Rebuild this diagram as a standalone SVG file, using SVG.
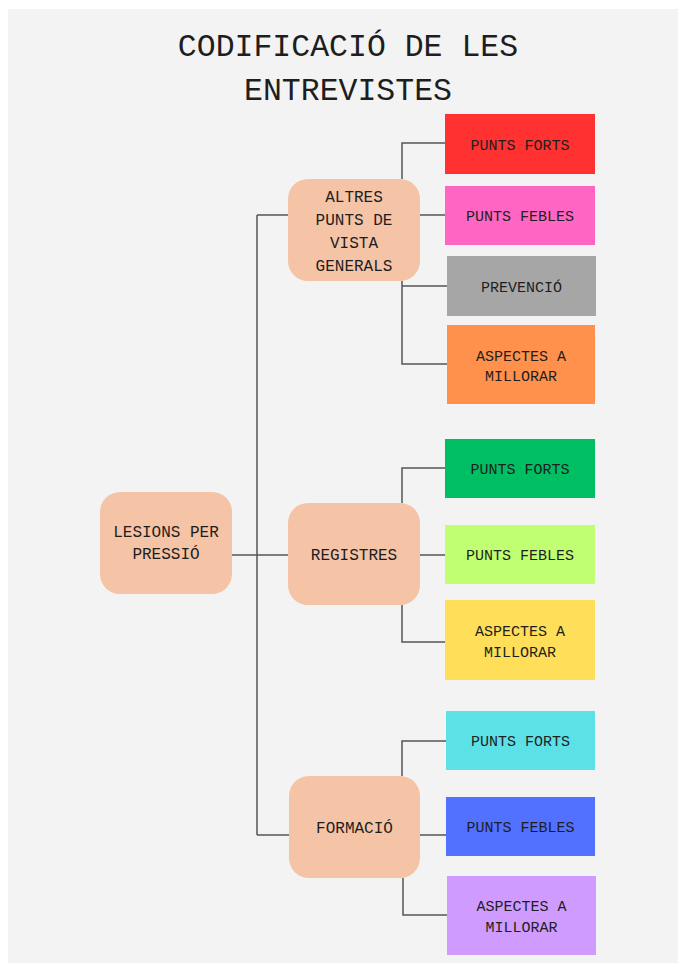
<svg xmlns="http://www.w3.org/2000/svg" width="678" height="963" viewBox="0 0 678 963">
<style>
.t{font-family:"Liberation Mono","DejaVu Sans Mono",monospace;fill:#1e1e1e;text-anchor:middle}
.title{font-size:31.5px}
.n{font-size:16px}
.l{font-size:15px}
.node{fill:#f5c4a6}
.c{fill:none;stroke:#555;stroke-width:1.5}
</style>
<rect x="0" y="0" width="678" height="963" fill="#ffffff"/>
<rect x="8" y="9" width="670" height="954" fill="#f3f3f3"/>
<g id="title">
<text class="t title" x="348" y="56">CODIFICACIÓ DE LES</text>
<text class="t title" x="348" y="100">ENTREVISTES</text>
</g>
<g id="connectors">
<path class="c" d="M257,215 V835"/>
<path class="c" d="M257,215 H288"/>
<path class="c" d="M232,555 H288"/>
<path class="c" d="M257,835 H289"/>
<path class="c" d="M402,179 V143 H445"/>
<path class="c" d="M420,215 H445"/>
<path class="c" d="M402,286 H447"/>
<path class="c" d="M402,281 V364 H447"/>
<path class="c" d="M402,503 V468 H445"/>
<path class="c" d="M420,555 H445"/>
<path class="c" d="M402,605 V642 H445"/>
<path class="c" d="M402,776 V741 H446"/>
<path class="c" d="M420,835 H446"/>
<path class="c" d="M403,878 V915 H447"/>
</g>
<g id="lesions">
<rect class="node" x="100" y="492" width="132" height="102" rx="20"/>
<text class="t n" x="166" y="537">LESIONS PER</text>
<text class="t n" x="166" y="559">PRESSIÓ</text>
</g>
<g id="altres">
<rect class="node" x="288" y="179" width="132" height="102" rx="20"/>
<text class="t n" x="354" y="202">ALTRES</text>
<text class="t n" x="354" y="225">PUNTS DE</text>
<text class="t n" x="354" y="248">VISTA</text>
<text class="t n" x="354" y="271">GENERALS</text>
</g>
<g id="registres">
<rect class="node" x="288" y="503" width="132" height="102" rx="20"/>
<text class="t n" x="354" y="560">REGISTRES</text>
</g>
<g id="formacio">
<rect class="node" x="289" y="776" width="131" height="102" rx="20"/>
<text class="t n" x="354.5" y="833">FORMACIÓ</text>
</g>
<g id="a-forts">
<rect x="445" y="114" width="150" height="60" fill="#ff3131"/>
<text class="t l" x="520" y="150">PUNTS FORTS</text>
</g>
<g id="a-febles">
<rect x="445" y="186" width="150" height="59" fill="#ff66c4"/>
<text class="t l" x="520" y="221">PUNTS FEBLES</text>
</g>
<g id="a-prevencio">
<rect x="447" y="256" width="149" height="60" fill="#a6a6a6"/>
<text class="t l" x="521.5" y="291.5">PREVENCIÓ</text>
</g>
<g id="a-aspectes">
<rect x="447" y="325" width="148" height="79" fill="#ff914d"/>
<text class="t l" x="521" y="360.5">ASPECTES A</text>
<text class="t l" x="521" y="381">MILLORAR</text>
</g>
<g id="r-forts">
<rect x="445" y="439" width="150" height="59" fill="#00bf63"/>
<text class="t l" x="520" y="474">PUNTS FORTS</text>
</g>
<g id="r-febles">
<rect x="445" y="525" width="150" height="59" fill="#c1ff72"/>
<text class="t l" x="520" y="560">PUNTS FEBLES</text>
</g>
<g id="r-aspectes">
<rect x="445" y="600" width="150" height="80" fill="#ffde59"/>
<text class="t l" x="520" y="636">ASPECTES A</text>
<text class="t l" x="520" y="656.5">MILLORAR</text>
</g>
<g id="f-forts">
<rect x="446" y="711" width="149" height="59" fill="#5ce1e6"/>
<text class="t l" x="520.5" y="746">PUNTS FORTS</text>
</g>
<g id="f-febles">
<rect x="446" y="797" width="149" height="59" fill="#5271ff"/>
<text class="t l" x="520.5" y="832">PUNTS FEBLES</text>
</g>
<g id="f-aspectes">
<rect x="447" y="876" width="149" height="79" fill="#cf9bfe"/>
<text class="t l" x="521.5" y="911">ASPECTES A</text>
<text class="t l" x="521.5" y="931.5">MILLORAR</text>
</g>
</svg>
